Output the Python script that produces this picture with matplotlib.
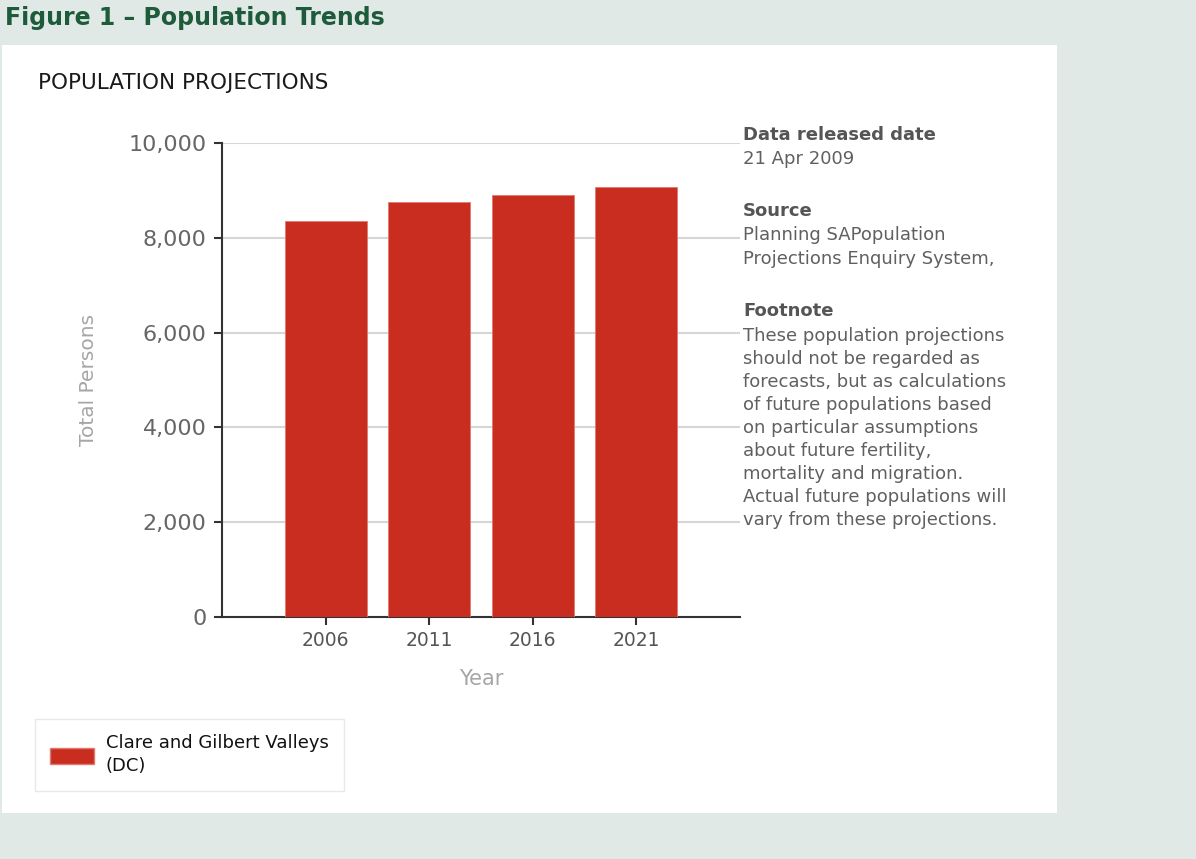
import matplotlib.pyplot as plt
from matplotlib.patches import Rectangle, Patch

# projected population, Clare and Gilbert Valleys (DC)
years = ["2006", "2011", "2016", "2021"]
persons = [8354, 8750, 8905, 9065]
series_name = "Clare and Gilbert Valleys\n(DC)"

y_ticks = [0, 2000, 4000, 6000, 8000, 10000]

# side notes: (heading, body lines)
notes = [
    ("Data released date", ["21 Apr 2009"]),
    ("Source", ["Planning SAPopulation", "Projections Enquiry System,"]),
    ("Footnote", ["These population projections",
                  "should not be regarded as",
                  "forecasts, but as calculations",
                  "of future populations based",
                  "on particular assumptions",
                  "about future fertility,",
                  "mortality and migration.",
                  "Actual future populations will",
                  "vary from these projections."]),
]

W, H = 1196, 859
BAR = "#c92d1f"
GREY_TEXT = "#666666"
LIGHT_TEXT = "#a6a6a6"


def fx(x):
    return x / W


def fy(y):
    return 1 - y / H


fig = plt.figure(figsize=(W / 100, H / 100), dpi=100)
fig.patch.set_facecolor("#e1e9e7")

# white panel behind the chart
fig.add_artist(Rectangle((fx(2), fy(813)), fx(1057) - fx(2), fy(45) - fy(813),
                         transform=fig.transFigure, facecolor="white",
                         edgecolor="none", zorder=0))

fig.text(fx(5), fy(18), "Figure 1 \u2013 Population Trends", fontsize=17,
         fontweight="bold", color="#1e5b3a", va="center", ha="left")
fig.text(fx(38), fy(83), "POPULATION PROJECTIONS", fontsize=15.5,
         color="#1a1a1a", va="center", ha="left")

ax = fig.add_axes([fx(222), fy(617), fx(740) - fx(222), fy(143) - fy(617)])
ax.set_facecolor("none")

x = range(len(years))
ax.bar(x, persons, width=0.79, color=BAR, edgecolor="#e07a70", linewidth=0.6,
       zorder=3)

ax.set_xlim(-1.0, 4.0)
ax.set_ylim(0, 10000)
ax.set_yticks(y_ticks)
ax.set_yticklabels([f"{v:,}" for v in y_ticks])
ax.set_xticks(list(x))
ax.set_xticklabels(years)

ax.grid(axis="y", color="#d6d6d6", linewidth=1.5, zorder=0)
ax.set_axisbelow(True)

for side in ("top", "right"):
    ax.spines[side].set_visible(False)
for side in ("left", "bottom"):
    ax.spines[side].set_color("#333333")
    ax.spines[side].set_linewidth(1.5)

ax.tick_params(axis="y", direction="out", length=6, width=1.5, color="#333333",
               labelsize=16, labelcolor=GREY_TEXT, pad=5)
ax.tick_params(axis="x", direction="out", length=6, width=1.5, color="#333333",
               labelsize=13.5, labelcolor="#555555", pad=4)

ax.set_ylabel("Total Persons", fontsize=14.5, color=LIGHT_TEXT, labelpad=22)
ax.set_xlabel("Year", fontsize=15, color=LIGHT_TEXT, labelpad=14)

# notes beside the plot
block_tops = [135, 211, 311]
for top, (heading, body) in zip(block_tops, notes):
    fig.text(fx(743), fy(top), heading, fontsize=13, fontweight="bold",
             color="#555555", va="center", ha="left")
    for j, line in enumerate(body):
        fig.text(fx(743), fy(top + 24.5 + j * 23.1), line, fontsize=13,
                 color="#606060", va="center", ha="left")

leg = fig.legend(handles=[Patch(facecolor=BAR, edgecolor="#e07a70",
                                label=series_name)],
                 loc="upper left", bbox_to_anchor=(fx(35), fy(719)),
                 bbox_transform=fig.transFigure, frameon=True, fancybox=False,
                 edgecolor="#e3e3e3", fontsize=13, handlelength=2.4,
                 handleheight=1.0, borderpad=0.85, borderaxespad=0,
                 handletextpad=0.66, labelcolor="#111111")
leg.get_texts()[0].set_linespacing(1.35)

fig.savefig("out.png", dpi=100, facecolor=fig.get_facecolor())
